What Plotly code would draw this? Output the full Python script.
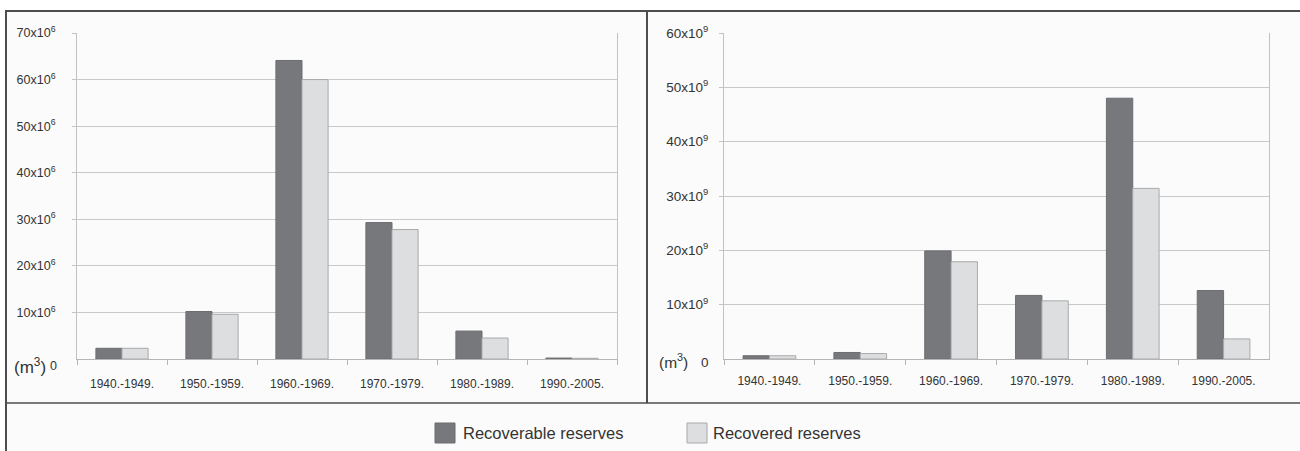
import plotly.graph_objects as go

# Decades shown on both panels
periods = ["1940.-1949.", "1950.-1959.", "1960.-1969.", "1970.-1979.", "1980.-1989.", "1990.-2005."]

# Left panel: oil reserves (x10^6 m3)
oil_recoverable = [2.3, 10.2, 64.1, 29.3, 6.0, 0.2]
oil_recovered = [2.3, 9.6, 60.0, 27.8, 4.5, 0.15]

# Right panel: gas reserves (x10^9 m3)
gas_recoverable = [0.6, 1.2, 19.9, 11.7, 48.0, 12.6]
gas_recovered = [0.6, 1.0, 17.9, 10.7, 31.4, 3.7]

series_names = ["Recoverable reserves", "Recovered reserves"]

# the "0" labels sit a little below the baseline, so they are placed as annotations
left_ticks = [10, 20, 30, 40, 50, 60, 70]
left_ticktext = [f"{v}x10<sup>6</sup>" for v in left_ticks]
right_ticks = [10, 20, 30, 40, 50, 60]
right_ticktext = [f"{v}x10<sup>9</sup>" for v in right_ticks]

W, H = 1300, 451
DARK = "#77787c"
DARK_LINE = "#6c6d70"
LIGHT = "#dddee0"
LIGHT_LINE = "#a8a9ab"
TEXT = "#333333"
GRID = "#c9c9c9"
FRAME = "#4d4d4d"
PANEL_BG = "#fbfbfb"
FONT = "Liberation Sans, Arial, sans-serif"


def px_x(x):
    return x / W


def px_y(y):
    return 1 - y / H


fig = go.Figure()

for vals_a, vals_b, xa, ya in [
    (oil_recoverable, oil_recovered, "x", "y"),
    (gas_recoverable, gas_recovered, "x2", "y2"),
]:
    fig.add_trace(go.Bar(x=periods, y=vals_a, name=series_names[0], xaxis=xa, yaxis=ya,
                         marker=dict(color=DARK, line=dict(color=DARK_LINE, width=1)),
                         showlegend=False))
    fig.add_trace(go.Bar(x=periods, y=vals_b, name=series_names[1], xaxis=xa, yaxis=ya,
                         marker=dict(color=LIGHT, line=dict(color=LIGHT_LINE, width=1)),
                         showlegend=False))

ydom = [px_y(359), px_y(33)]

common_x = dict(
    type="category", showline=True, linecolor="#b5b5b5", linewidth=1,
    ticks="outside", tickson="boundaries", ticklen=5, tickcolor="#b5b5b5",
    showgrid=False, fixedrange=True, automargin=False,
)
common_y = dict(
    showline=True, linecolor="#c2c2c2", linewidth=1, mirror=True,
    showgrid=True, gridcolor=GRID, gridwidth=1, zeroline=False,
    ticks="outside", ticklen=4, tickcolor="#c2c2c2", fixedrange=True, automargin=False,
)

fig.update_layout(
    template="none",
    width=W, height=H,
    margin=dict(l=0, r=0, t=0, b=0, pad=0, autoexpand=False),
    paper_bgcolor="white",
    plot_bgcolor=PANEL_BG,
    showlegend=False,
    barmode="group", bargap=0.42, bargroupgap=0.0,
    font=dict(family=FONT, color=TEXT),
    xaxis=dict(domain=[px_x(77), px_x(617)], anchor="y",
               tickfont=dict(size=12, color=TEXT), ticklabelstandoff=14, **common_x),
    yaxis=dict(domain=ydom, anchor="x", range=[0, 70], tickvals=left_ticks,
               ticktext=left_ticktext, tickfont=dict(size=12.5, color=TEXT),
               ticklabelstandoff=14, **common_y),
    xaxis2=dict(domain=[px_x(724), px_x(1269)], anchor="y2",
                tickfont=dict(size=12, color=TEXT), ticklabelstandoff=11, **common_x),
    yaxis2=dict(domain=ydom, anchor="x2", range=[0, 60], tickvals=right_ticks,
                ticktext=right_ticktext, tickfont=dict(size=13.5, color=TEXT),
                ticklabelstandoff=8, **common_y),
)

shapes = []
# panel background and frame lines
shapes.append(dict(type="rect", xref="paper", yref="paper", layer="below",
                   x0=px_x(5), x1=1, y0=0, y1=px_y(11),
                   fillcolor=PANEL_BG, line=dict(width=0)))
shapes.append(dict(type="line", xref="paper", yref="paper",
                   x0=px_x(5), x1=1, y0=px_y(11), y1=px_y(11),
                   line=dict(color=FRAME, width=2)))
shapes.append(dict(type="line", xref="paper", yref="paper",
                   x0=px_x(6), x1=px_x(6), y0=0, y1=px_y(11),
                   line=dict(color=FRAME, width=2)))
shapes.append(dict(type="line", xref="paper", yref="paper",
                   x0=px_x(647), x1=px_x(647), y0=px_y(403), y1=px_y(11),
                   line=dict(color=FRAME, width=2)))
shapes.append(dict(type="line", xref="paper", yref="paper",
                   x0=px_x(5), x1=1, y0=px_y(403), y1=px_y(403),
                   line=dict(color=FRAME, width=1.5)))
# legend swatches
shapes.append(dict(type="rect", xref="paper", yref="paper",
                   x0=px_x(435), x1=px_x(455), y0=px_y(443), y1=px_y(423),
                   fillcolor=DARK, line=dict(color=DARK_LINE, width=1)))
shapes.append(dict(type="rect", xref="paper", yref="paper",
                   x0=px_x(687), x1=px_x(707), y0=px_y(443), y1=px_y(423),
                   fillcolor=LIGHT, line=dict(color=LIGHT_LINE, width=1)))


def label(x, y, text, size, anchor="center"):
    return dict(xref="paper", yref="paper", x=px_x(x), y=px_y(y), text=text,
                showarrow=False, xanchor=anchor, yanchor="middle",
                font=dict(size=size, color=TEXT, family=FONT))


annotations = [
    label(30, 366, "(m<sup>3</sup>)", 17),
    label(59, 366, "0", 12.5, "right"),
    label(673, 361, "(m<sup>3</sup>)", 15.5),
    label(711, 362, "0", 13.5, "right"),
    label(461, 433, series_names[0], 16.5, "left"),
    label(711, 433, series_names[1], 16.5, "left"),
]

fig.update_layout(shapes=shapes, annotations=annotations)

fig.write_html("out.html")
